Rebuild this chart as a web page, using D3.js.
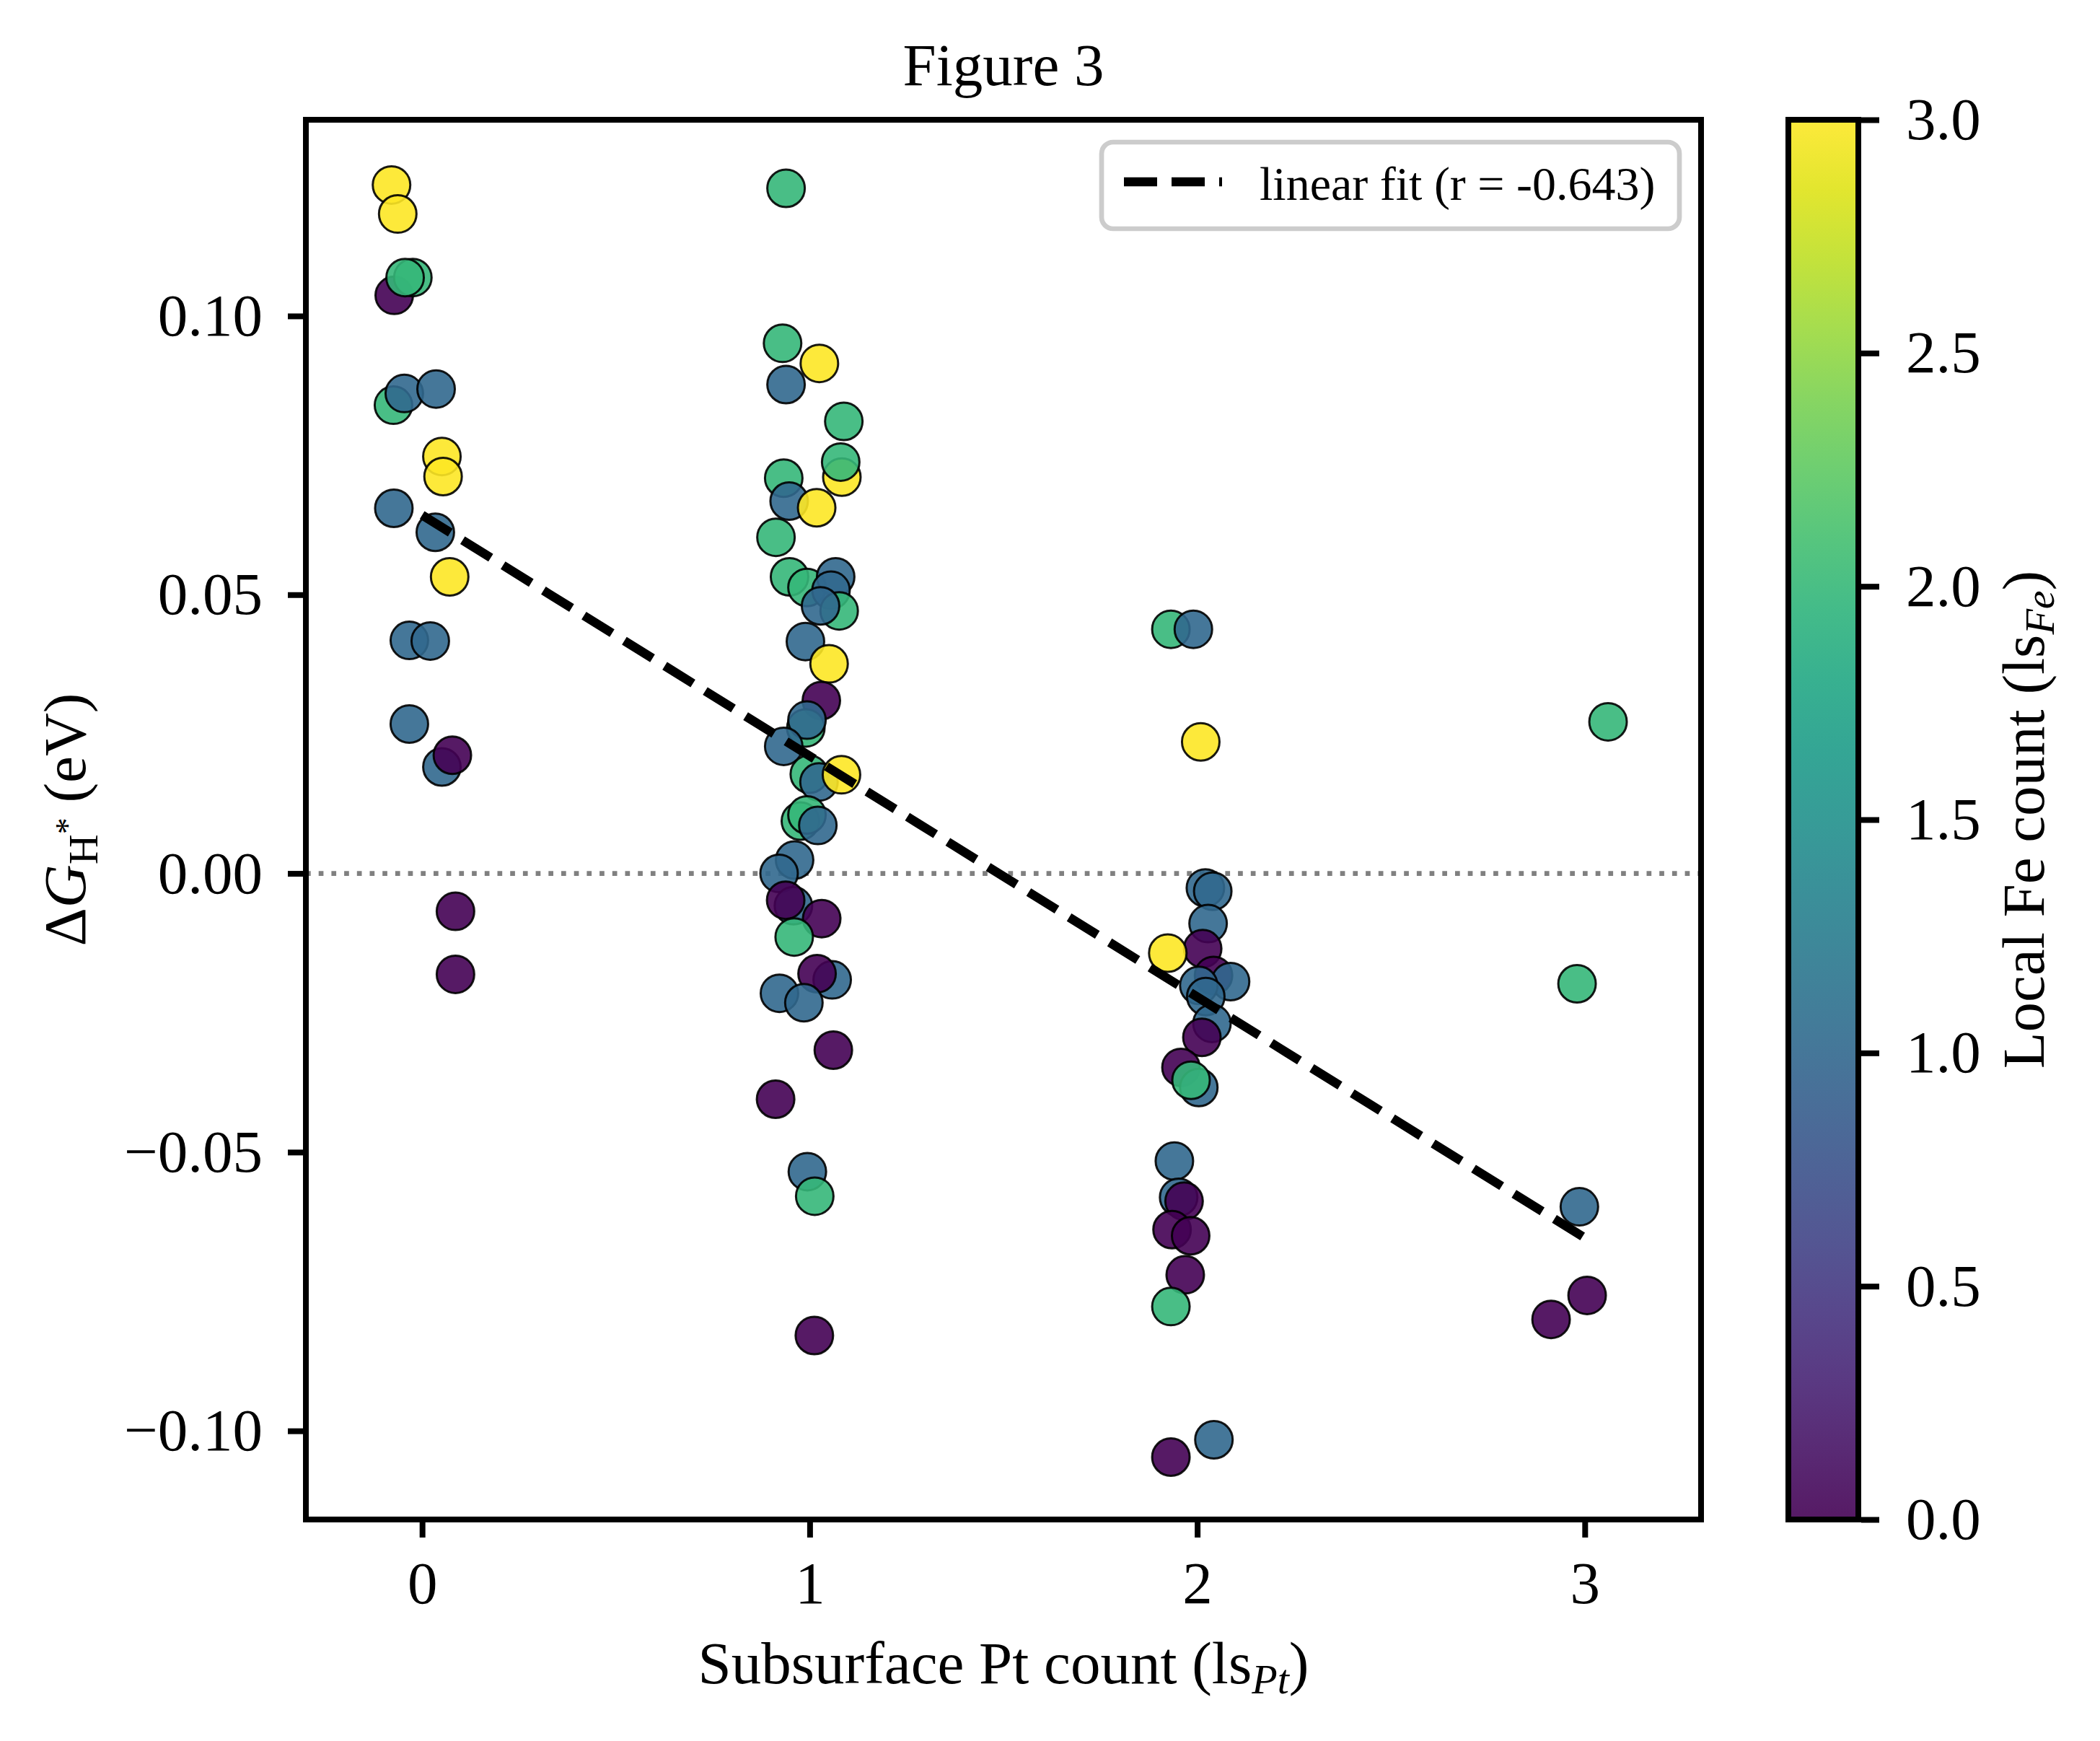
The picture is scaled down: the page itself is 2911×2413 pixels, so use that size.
<!DOCTYPE html>
<html>
<head>
<meta charset="utf-8">
<script src="https://cdn.jsdelivr.net/npm/d3@7"></script>
<style>body{margin:0;background:#fff}</style>
</head>
<body>
<script>
const width = 2911, height = 2413;
const plotLeft = 424, plotRight = 2358, plotTop = 166, plotBottom = 2106;
const fontFamily = "'Liberation Serif', 'Times New Roman', serif";

// subsurface Pt count (with jitter), dG_H* in eV, local Fe count
const ptCount = [
  -0.079, -0.063, -0.072, -0.024, -0.044, -0.074, -0.046, 0.036, 0.051, 0.054,
  -0.073, 0.034, 0.071, -0.033, 0.021, -0.033, 0.051, 0.078, 0.086, 0.086,
  0.939, 0.930, 1.025, 0.939, 1.088, 1.083, 1.080, 0.933, 0.947, 1.018,
  0.913, 0.948, 0.993, 1.067, 1.055, 1.076, 1.028, 0.989, 1.050, 1.030,
  0.990, 0.993, 0.933, 0.999, 1.024, 1.082, 0.976, 0.993, 1.021, 0.961,
  0.921, 0.958, 0.938, 1.031, 0.960, 1.058, 1.019, 0.922, 0.985, 1.061,
  0.912, 0.994, 1.013, 1.012,
  1.932, 1.990, 2.009, 2.021, 2.040, 2.028, 2.014, 1.924, 2.042, 2.086,
  2.004, 2.022, 2.038, 2.012, 1.958, 2.004, 1.984, 1.941, 1.952, 1.966,
  1.935, 1.983, 1.969, 1.932, 2.043, 1.932,
  3.060, 2.980, 2.986, 3.006, 2.913
];
const deltaG = [
  0.1235, 0.1183, 0.1037, 0.1069, 0.1069, 0.0840, 0.0861, 0.0869, 0.0748, 0.0712,
  0.0655, 0.0612, 0.0532, 0.0418, 0.0417, 0.0268, 0.0191, 0.0212, -0.0068, -0.0181,
  0.1229, 0.0951, 0.0915, 0.0877, 0.0811, 0.0711, 0.0738, 0.0709, 0.0668, 0.0656,
  0.0603, 0.0532, 0.0513, 0.0532, 0.0508, 0.0471, 0.0480, 0.0416, 0.0376, 0.0310,
  0.0261, 0.0275, 0.0228, 0.0178, 0.0164, 0.0177, 0.0094, 0.0105, 0.0086, 0.0024,
  0.0000, -0.0058, -0.0048, -0.0081, -0.0114, -0.0191, -0.0180, -0.0215, -0.0232, -0.0317,
  -0.0405, -0.0535, -0.0579, -0.0829,
  0.0438, 0.0438, 0.0236, -0.0026, -0.0032, -0.0090, -0.0135, -0.0143, -0.0183, -0.0194,
  -0.0201, -0.0221, -0.0269, -0.0294, -0.0348, -0.0384, -0.0371, -0.0516, -0.0581, -0.0588,
  -0.0639, -0.0650, -0.0720, -0.0777, -0.1016, -0.1047,
  0.0272, -0.0198, -0.0598, -0.0757, -0.0800
];
const feCount = [
  3, 3, 0, 2, 2, 2, 1, 1, 3, 3,
  1, 1, 3, 1, 1, 1, 1, 0, 0, 0,
  2, 2, 3, 1, 2, 3, 2, 2, 1, 3,
  2, 2, 2, 1, 1, 2, 1, 1, 3, 0,
  2, 1, 1, 2, 1, 3, 2, 2, 1, 1,
  1, 1, 0, 0, 2, 1, 0, 1, 1, 0,
  0, 1, 2, 0,
  2, 1, 3, 1, 1, 1, 0, 3, 0, 1,
  1, 1, 1, 0, 0, 1, 2, 1, 1, 0,
  0, 0, 0, 2, 1, 0,
  2, 2, 1, 0, 0
];

const xTicks = [0, 1, 2, 3];
const yTicks = [-0.10, -0.05, 0.00, 0.05, 0.10];
const cbTicks = [0, 0.5, 1, 1.5, 2, 2.5, 3];
const xDomain = [-0.3, 3.3];
const yDomain = [-0.1159, 0.1352];
const fitLabel = "linear fit (r = -0.643)";

let svg = d3.select("body").append("svg")
  .attr("width", width)
  .attr("height", height)
  .style("font-family", fontFamily);

svg.append("rect").attr("width", width).attr("height", height).attr("fill", "#fff");

let xScale = d3.scaleLinear().domain(xDomain).range([plotLeft, plotRight]);
let yScale = d3.scaleLinear().domain(yDomain).range([plotBottom, plotTop]);
let color = d3.scaleSequential(d3.interpolateViridis).domain([0, 3]);

// zero reference line
svg.append("line")
  .attr("x1", plotLeft).attr("x2", plotRight)
  .attr("y1", yScale(0)).attr("y2", yScale(0))
  .attr("stroke", "#808080")
  .attr("stroke-width", 6.7)
  .attr("stroke-dasharray", "6.7,11");

// points
svg.append("g").selectAll("circle")
  .data(d3.range(ptCount.length))
  .join("circle")
  .attr("cx", i => xScale(ptCount[i]))
  .attr("cy", i => yScale(deltaG[i]))
  .attr("r", 26)
  .attr("fill", i => color(feCount[i]))
  .attr("fill-opacity", 0.9)
  .attr("stroke", "#000")
  .attr("stroke-opacity", 0.9)
  .attr("stroke-width", 3);

// least squares fit against integer Pt count
let xr = ptCount.map(v => Math.round(v));
let mx = d3.mean(xr), my = d3.mean(deltaG);
let sxy = d3.sum(xr, (v, i) => (v - mx) * (deltaG[i] - my));
let sxx = d3.sum(xr, v => (v - mx) * (v - mx));
let slope = sxy / sxx, intercept = my - slope * mx;
let fitX = d3.extent(xr);

svg.append("line")
  .attr("x1", xScale(fitX[0])).attr("y1", yScale(intercept + slope * fitX[0]))
  .attr("x2", xScale(fitX[1])).attr("y2", yScale(intercept + slope * fitX[1]))
  .attr("stroke", "#000")
  .attr("stroke-width", 12.5)
  .attr("stroke-dasharray", "46,20");

// axes
let xAxis = d3.axisBottom(xScale).tickValues(xTicks).tickSize(25).tickPadding(32).tickFormat(d3.format("d"));
let yAxis = d3.axisLeft(yScale).tickValues(yTicks).tickSize(25).tickPadding(35).tickFormat(d3.format(".2f"));

let gx = svg.append("g").attr("transform", "translate(0," + plotBottom + ")").call(xAxis);
let gy = svg.append("g").attr("transform", "translate(" + plotLeft + ",0)").call(yAxis);
[gx, gy].forEach(g => {
  g.select(".domain").remove();
  g.selectAll(".tick line").attr("stroke-width", 8);
  g.selectAll(".tick text").attr("font-size", 83).attr("font-family", fontFamily).attr("fill", "#000");
});

svg.append("rect")
  .attr("x", plotLeft).attr("y", plotTop)
  .attr("width", plotRight - plotLeft).attr("height", plotBottom - plotTop)
  .attr("fill", "none").attr("stroke", "#000").attr("stroke-width", 8);

// legend
let legend = svg.append("g");
legend.append("rect")
  .attr("x", 1527).attr("y", 197).attr("width", 801).attr("height", 120)
  .attr("rx", 16)
  .attr("fill", "#fff").attr("fill-opacity", 0.8)
  .attr("stroke", "#cccccc").attr("stroke-width", 6.7);
legend.append("line")
  .attr("x1", 1558).attr("x2", 1694).attr("y1", 252).attr("y2", 252)
  .attr("stroke", "#000").attr("stroke-width", 12.5)
  .attr("stroke-dasharray", "46,20");
legend.append("text")
  .attr("x", 1746).attr("y", 277)
  .attr("font-size", 66)
  .text(fitLabel);

// title
svg.append("text")
  .attr("x", (plotLeft + plotRight) / 2).attr("y", 118)
  .attr("text-anchor", "middle").attr("font-size", 83)
  .text("Figure 3");

// x label
let xl = svg.append("text")
  .attr("x", (plotLeft + plotRight) / 2).attr("y", 2333)
  .attr("text-anchor", "middle").attr("font-size", 83);
xl.append("tspan").text("Subsurface Pt count (ls");
xl.append("tspan").attr("font-style", "italic").attr("font-size", 58).attr("dy", 14).text("Pt");
xl.append("tspan").attr("dy", -14).text(")");

// y label
let yl = svg.append("text")
  .attr("transform", "translate(118," + (plotTop + plotBottom) / 2 + ") rotate(-90)")
  .attr("text-anchor", "middle").attr("font-size", 83);
yl.append("tspan").text("Δ");
yl.append("tspan").attr("font-style", "italic").text("G");
yl.append("tspan").attr("font-size", 58).attr("dy", 17).text("H");
yl.append("tspan").attr("font-size", 46).attr("dy", -26).text("*");
yl.append("tspan").attr("dy", 9).text(" (eV)");

// colorbar
const cbLeft = 2479, cbRight = 2576;
let grad = svg.append("defs").append("linearGradient")
  .attr("id", "viridis").attr("x1", 0).attr("y1", 1).attr("x2", 0).attr("y2", 0);
d3.range(0, 1.0001, 0.05).forEach(t => {
  grad.append("stop").attr("offset", t).attr("stop-color", d3.interpolateViridis(t));
});
svg.append("rect")
  .attr("x", cbLeft).attr("y", plotTop)
  .attr("width", cbRight - cbLeft).attr("height", plotBottom - plotTop)
  .attr("fill", "url(#viridis)").attr("fill-opacity", 0.9);
svg.append("rect")
  .attr("x", cbLeft).attr("y", plotTop)
  .attr("width", cbRight - cbLeft).attr("height", plotBottom - plotTop)
  .attr("fill", "none").attr("stroke", "#000").attr("stroke-width", 8);

let cbScale = d3.scaleLinear().domain([0, 3]).range([plotBottom, plotTop]);
let cbAxis = d3.axisRight(cbScale).tickValues(cbTicks).tickSize(25).tickPadding(37).tickFormat(d3.format(".1f"));
let gc = svg.append("g").attr("transform", "translate(" + (cbRight + 4) + ",0)").call(cbAxis);
gc.select(".domain").remove();
gc.selectAll(".tick line").attr("stroke-width", 8);
gc.selectAll(".tick text").attr("font-size", 83).attr("font-family", fontFamily).attr("fill", "#000");

let cl = svg.append("text")
  .attr("transform", "translate(2833," + (plotTop + plotBottom) / 2 + ") rotate(-90)")
  .attr("text-anchor", "middle").attr("font-size", 83);
cl.append("tspan").text("Local Fe count (ls");
cl.append("tspan").attr("font-style", "italic").attr("font-size", 58).attr("dy", 14).text("Fe");
cl.append("tspan").attr("dy", -14).text(")");
</script>
</body>
</html>
